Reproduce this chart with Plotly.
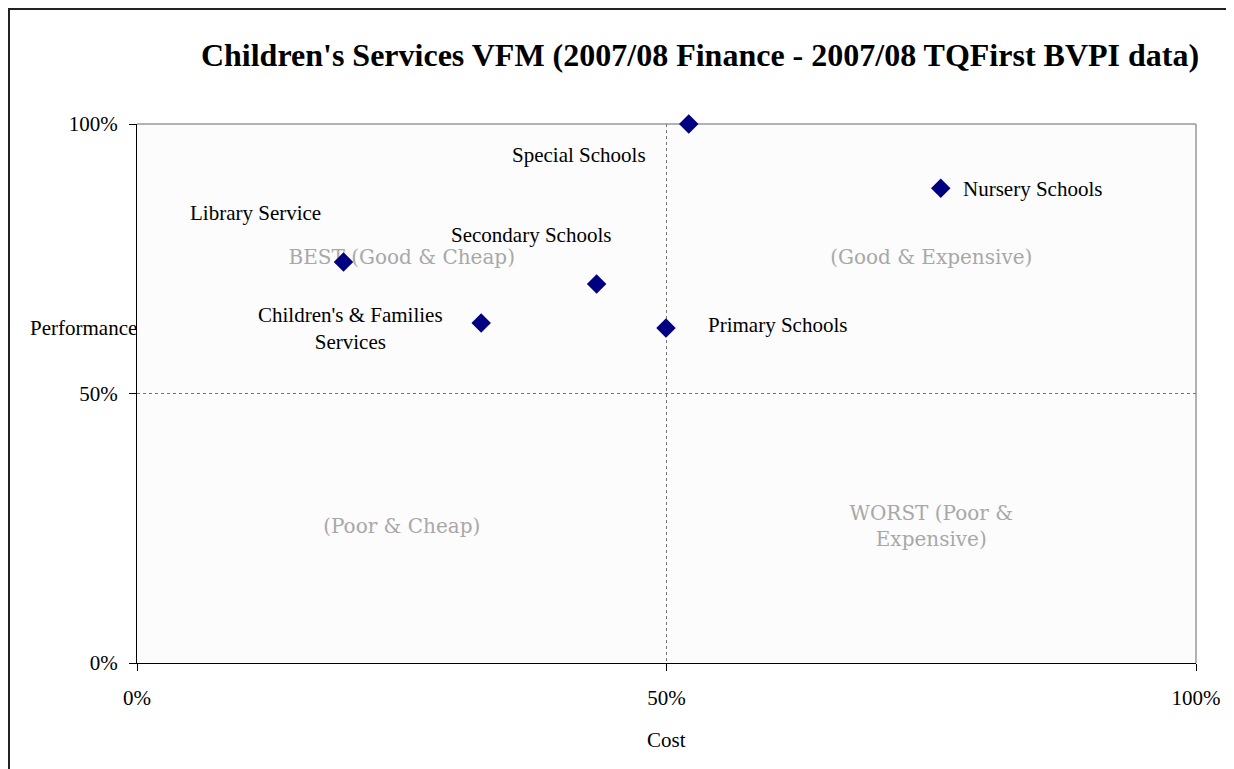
import plotly.graph_objects as go

# Data
services = ["Special Schools", "Nursery Schools", "Library Service",
            "Secondary Schools", "Children's & Families<br>Services", "Primary Schools"]
cost = [0.521, 0.759, 0.195, 0.434, 0.325, 0.4995]
performance = [1.0, 0.881, 0.744, 0.703, 0.631, 0.6215]
# label offsets (pixels) relative to each point
label_dx = [-110, 92, -88, -66, -131, 112]
label_dy = [-31, -1, 49, 49, -6, 3]

quadrant_labels = ["BEST (Good & Cheap)", "(Good & Expensive)", "(Poor & Cheap)", "WORST (Poor &<br>Expensive)"]
quadrant_x = [0.25, 0.75, 0.25, 0.75]
quadrant_y = [0.75, 0.75, 0.25, 0.25]

tick_vals = [0, 0.5, 1.0]
tick_text = ["0%", "50%", "100%"]

SERIF = "Liberation Serif, Times New Roman, serif"

W, H = 1226, 761
L, R, T, B = 129, 38, 116, 106
PW = W - L - R
PH = H - T - B

fig = go.Figure()

fig.add_trace(go.Scatter(
    x=quadrant_x, y=quadrant_y, mode="text", text=quadrant_labels,
    textfont=dict(family="DejaVu Serif, serif", size=20, color="#a8a8a8"),
    hoverinfo="skip", showlegend=False,
))

fig.add_trace(go.Scatter(
    x=cost, y=performance, mode="markers",
    marker=dict(symbol="diamond", size=15, color="#000080"),
    cliponaxis=False, showlegend=False,
))

annotations = []
for name, xv, yv, dx, dy in zip(services, cost, performance, label_dx, label_dy):
    annotations.append(dict(
        x=xv, y=yv, xref="x", yref="y", text=name, showarrow=False,
        xshift=dx, yshift=dy, font=dict(family=SERIF, size=21, color="black"),
        align="center", xanchor="center", yanchor="middle",
    ))

annotations.append(dict(x=0.5, y=-(740 - 663) / PH, xref="paper", yref="paper", text="Cost",
                        showarrow=False, font=dict(family=SERIF, size=21, color="black"),
                        xanchor="center", yanchor="middle"))
annotations.append(dict(x=(83.5 - 137) / PW, y=(663 - 328) / PH, xref="paper", yref="paper",
                        text="Performance",
                        showarrow=False, font=dict(family=SERIF, size=21, color="black"),
                        xanchor="center", yanchor="middle"))

shapes = [
    dict(type="rect", xref="paper", yref="paper",
         x0=(1 - L) / PW, x1=(W + 40 - L) / PW,
         y0=-(B + 40) / PH, y1=(PH + T - 1) / PH,
         line=dict(color="#222222", width=2), layer="below"),
    dict(type="line", xref="paper", yref="paper", x0=0, x1=1, y0=1, y1=1,
         line=dict(color="#999999", width=1.5), layer="below"),
    dict(type="line", xref="paper", yref="paper", x0=1, x1=1, y0=0, y1=1,
         line=dict(color="#999999", width=1.5), layer="below"),
]

fig.update_layout(
    width=W, height=H,
    margin=dict(l=L, r=R, t=T, b=B),
    paper_bgcolor="white", plot_bgcolor="#fcfcfc",
    title=dict(text="<b>Children's Services VFM (2007/08 Finance - 2007/08 TQFirst BVPI data)</b>",
               x=692 / W, xanchor="center", y=1 - 47 / H, yanchor="middle",
               yref="container", xref="container",
               font=dict(family=SERIF, size=32, color="black")),
    annotations=annotations,
    shapes=shapes,
)

fig.update_xaxes(range=[0, 1], tickvals=tick_vals, ticktext=tick_text,
                 showgrid=True, gridcolor="#777777", griddash="dot", gridwidth=1,
                 zeroline=False, showline=True, linecolor="black", linewidth=1,
                 ticks="outside", ticklen=7, tickcolor="black", ticklabelstandoff=9,
                 tickfont=dict(family=SERIF, size=21, color="black"), fixedrange=True)
fig.update_yaxes(range=[0, 1], tickvals=tick_vals, ticktext=tick_text,
                 showgrid=True, gridcolor="#777777", griddash="dot", gridwidth=1,
                 zeroline=False, showline=True, linecolor="black", linewidth=1,
                 ticks="outside", ticklen=7, tickcolor="black", ticklabelstandoff=7,
                 tickfont=dict(family=SERIF, size=21, color="black"), fixedrange=True)

fig.write_html("out.html")
